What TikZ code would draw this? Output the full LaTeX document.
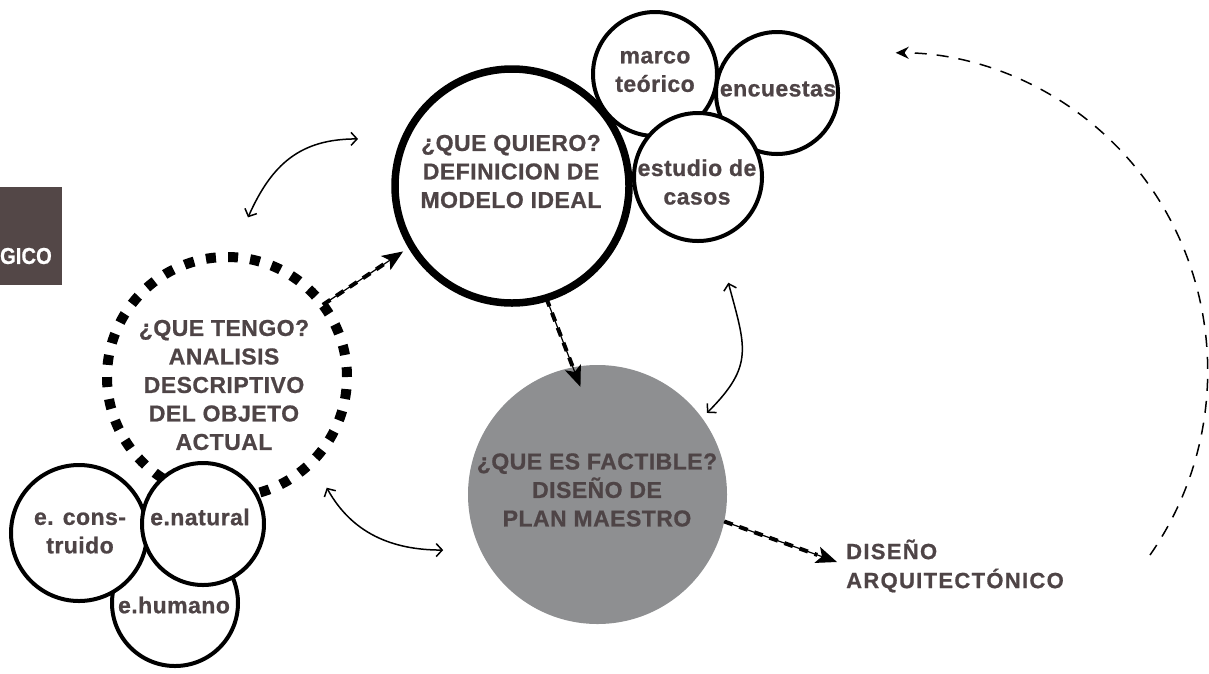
\documentclass[tikz,border=0pt]{standalone}
\usepackage{fontspec}
\setmainfont{Liberation Sans}[BoldFeatures={FakeBold=0.8}]
\newfontfamily\labfont{Liberation Sans}[LetterSpace=2, BoldFeatures={FakeBold=0.8}]
\newfontfamily\disfont{Liberation Sans}[LetterSpace=6, BoldFeatures={FakeBold=0.8}]
\usetikzlibrary{arrows.meta,calc}
\definecolor{txtc}{RGB}{78,68,70}
\definecolor{grayc}{RGB}{142,143,145}
\definecolor{boxc}{RGB}{83,71,71}
\tikzset{
  lbl/.style={font=\labfont\bfseries\fontsize{23}{28.5}\selectfont, text=txtc, align=center, inner sep=0},
  smallc/.style={circle, draw=black, line width=4pt, fill=white, inner sep=0, outer sep=0},
  flowline/.style={line width=1.2pt, -{Stealth[length=21pt,width=17pt,inset=5pt]}},
  flowdash/.style={line width=4pt, dash pattern=on 9pt off 7pt, shorten >=21pt},
  dbl/.style={line width=1.5pt, {Straight Barb[length=6pt,width=13pt]}-{Straight Barb[length=6pt,width=13pt]}},
  loop/.style={line width=1.5pt, dash pattern=on 12pt off 10pt, -{Stealth[length=13pt,width=12pt]}},
}
\begin{document}
\begin{tikzpicture}[x=1pt,y=1pt]
\useasboundingbox (0,0) rectangle (1209,-673);
% left box
\node[fill=boxc, minimum width=62pt, minimum height=98pt, inner sep=0, anchor=north west] (box) at (0,-187) {};
\node[font=\bfseries\fontsize{23}{26}\selectfont, text=white, anchor=east, inner sep=0, xscale=0.88, transform shape] (boxt) at (52,-256) {GICO};

% que tengo
\node[circle, draw=black, line width=10pt, dash pattern=on 10pt off 12.18pt, minimum size=240pt, inner sep=0, outer sep=0] (tengo) at (227,-377) {};
\node[lbl] (tengot) at (224,-385) {¿QUE TENGO?\\ANALISIS\\DESCRIPTIVO\\DEL OBJETO\\ACTUAL};

% lower-left circles
\node[smallc, minimum size=126pt] (humano) at (175,-603) {};
\node[smallc, minimum size=136pt] (constr) at (79,-533) {};
\node[smallc, minimum size=122pt] (natural) at (203,-524) {};
\node[lbl] (constrt) at (80,-533) {e. cons-\\truido};
\node[lbl] (naturalt) at (200,-517) {e.natural};
\node[lbl] (humanot) at (174,-605) {e.humano};

% que quiero
\node[circle, draw=black, line width=7.5pt, fill=white, minimum size=234pt, inner sep=0, outer sep=0] (quiero) at (512,-186) {};
\node[lbl] (quierot) at (511,-171.5) {¿QUE QUIERO?\\DEFINICION DE\\MODELO IDEAL};

% top cluster
\node[smallc, minimum size=124pt] (marco) at (655,-74) {};
\node[smallc, minimum size=122pt] (encuestas) at (777,-93) {};
\node[smallc, minimum size=128pt] (estudio) at (698,-177) {};
\node[lbl] (marcot) at (655,-71.5) {marco\\teórico};
\node[lbl] (encuestast) at (778,-89) {encuestas};
\node[lbl] (estudiot) at (697,-182) {estudio de\\casos};

% que es factible
\node[circle, fill=grayc, minimum size=259pt, inner sep=0, outer sep=0] (factible) at (597.5,-494.5) {};
\node[lbl] (factiblet) at (597,-490) {¿QUE ES FACTIBLE?\\DISEÑO DE\\PLAN MAESTRO};

% diseño arquitectonico
\node[font=\disfont\bfseries\fontsize{22}{29}\selectfont, text=txtc, align=left, anchor=west, inner sep=0] (diseno) at (846,-566) {DISEÑO\\ARQUITECTÓNICO};

% flow arrows
\coordinate (f1b) at ($(quiero.center)+(211:127)$);
\draw[flowline] (tengo.37) -- (f1b);
\draw[flowdash] (tengo.37) -- (f1b);
\coordinate (f2b) at ($(factible.center)+(99:109)$);
\draw[flowline] (quiero.-73) -- (f2b);
\draw[flowdash] (quiero.-73) -- (f2b);
\coordinate (f3b) at ($(diseno.west)+(-9,4)$);
\draw[flowline] (factible.-12) -- (f3b);
\draw[flowdash] (factible.-12) -- (f3b);

% double curved arrows
\coordinate (c1a) at ($(tengo.center)+(82.5:161)$);
\coordinate (c1b) at ($(quiero.center)+(163:161)$);
\draw[dbl] (c1a) to[out=66,in=180,looseness=1.1] (c1b);
\coordinate (c2a) at ($(estudio.center)+(-74:110)$);
\coordinate (c2b) at ($(factible.center)+(36.7:136.5)$);
\draw[dbl] (c2a) to[out=-75,in=45,looseness=1.3] (c2b);
\coordinate (c3a) at ($(tengo.center)+(-48:149)$);
\coordinate (c3b) at ($(factible.center)+(199.8:164)$);
\draw[dbl] (c3a) to[out=-61,in=180] (c3b);

% feedback loop
\coordinate (loopa) at (1150,-555);
\draw[loop] (loopa) arc[start angle=-35.4, end angle=90, x radius=312, y radius=318];
\end{tikzpicture}
\end{document}
